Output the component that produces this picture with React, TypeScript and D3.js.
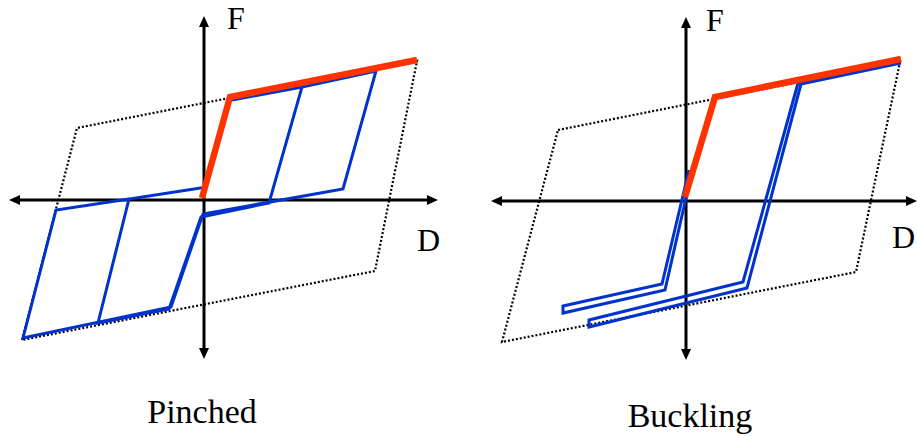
import React from "react";
import * as d3 from "d3";

type P = [number, number];

// ---- Pinched panel (D, F in plot units, origin at axis crossing) ----
const pinchedEnvelope: P[] = [[-182, -140], [-127, 72], [213, 139], [171, -71]];
const pinchedBackbone: P[] = [[-2, 2], [26, 103], [213, 140]];
const pinchedLoopA: P[] = [[28, 100], [98, 113], [65, -3], [-3, -17], [-35, -109], [-106, -123], [-75, 1], [3, 13]];
const pinchedLoopB: P[] = [[98, 113], [172, 129], [139, 11], [-1, -14], [-33, -107], [-181, -138], [-148, -10], [-75, 1]];
const pinchedAxisD: P = [-195, 234];
const pinchedAxisF: P = [-159, 184];

// ---- Buckling panel ----
const bucklingEnvelope: P[] = [[-128, 71], [214, 139], [170, -71], [-184, -141]];
const bucklingBackbone: P[] = [[-1, 4], [29, 104], [215, 142]];
const bucklingLoopInner: P[] = [[3, 31], [-24, -83], [-123, -105], [-123, -112], [-21, -89], [5, 25]];
const bucklingLoopOuter: P[] = [[215, 140], [112, 118], [57, -81], [-97, -119], [-97, -126], [61, -87], [115, 117], [215, 138]];
const bucklingAxisD: P = [-195, 231];
const bucklingAxisF: P = [-159, 184];

const panelTitles = ["Pinched", "Buckling"];
const axisLabels = ["F", "D"];

const RED = "#ff3300";
const BLUE = "#0033cc";
const FONT = "'Liberation Serif', 'Times New Roman', serif";

interface PanelProps {
  ox: number;
  oy: number;
  envelope: P[];
  backbone: P[];
  loops: P[][];
  axisD: P;
  axisF: P;
  title: string;
  titleX: number;
  titleY: number;
  fPos: P;
  dPos: P;
}

function Panel(props: PanelProps) {
  const { ox, oy, envelope, backbone, loops, axisD, axisF } = props;
  const x = d3.scaleLinear().domain([-200, 240]).range([ox - 200, ox + 240]);
  const y = d3.scaleLinear().domain([-170, 190]).range([oy + 170, oy - 190]);
  const line = d3.line<P>().x((d) => x(d[0])).y((d) => y(d[1]));
  const closed = d3.line<P>().x((d) => x(d[0])).y((d) => y(d[1])).curve(d3.curveLinearClosed);

  const aL = 11;
  const aW = 5;
  const xl = x(axisD[0]);
  const xr = x(axisD[1]);
  const yb = y(axisF[0]);
  const yt = y(axisF[1]);
  const x0 = x(0);
  const y0 = y(0);

  return (
    <g>
      <path d={closed(envelope) || ""} fill="none" stroke="#000" strokeWidth={2.2} strokeDasharray="2 2" />
      {/* axes */}
      <line x1={xl + aL - 1} y1={y0} x2={xr - aL + 1} y2={y0} stroke="#000" strokeWidth={3} />
      <line x1={x0} y1={yb - aL + 1} x2={x0} y2={yt + aL - 1} stroke="#000" strokeWidth={3} />
      <polygon points={`${xl},${y0} ${xl + aL},${y0 - aW} ${xl + aL},${y0 + aW}`} fill="#000" />
      <polygon points={`${xr},${y0} ${xr - aL},${y0 - aW} ${xr - aL},${y0 + aW}`} fill="#000" />
      <polygon points={`${x0},${yt} ${x0 - aW},${yt + aL} ${x0 + aW},${yt + aL}`} fill="#000" />
      <polygon points={`${x0},${yb} ${x0 - aW},${yb - aL} ${x0 + aW},${yb - aL}`} fill="#000" />
      {loops.map((l, i) => (
        <path key={i} d={line(l) || ""} fill="none" stroke={BLUE} strokeWidth={3} strokeLinejoin="miter" />
      ))}
      <path d={line(backbone) || ""} fill="none" stroke={RED} strokeWidth={6.5} strokeLinejoin="miter" />
      <text x={props.fPos[0]} y={props.fPos[1]} fontFamily={FONT} fontSize={32}>{axisLabels[0]}</text>
      <text x={props.dPos[0]} y={props.dPos[1]} fontFamily={FONT} fontSize={32}>{axisLabels[1]}</text>
      <text x={props.titleX} y={props.titleY} fontFamily={FONT} fontSize={34} textAnchor="middle">{props.title}</text>
    </g>
  );
}

export default function App() {
  return (
    <svg width={917} height={436} style={{ position: "absolute", left: 0, top: 0, background: "#fff" }}>
      <rect width={917} height={436} fill="#fff" />
      <Panel
        ox={204}
        oy={200}
        envelope={pinchedEnvelope}
        backbone={pinchedBackbone}
        loops={[pinchedLoopA, pinchedLoopB]}
        axisD={pinchedAxisD}
        axisF={pinchedAxisF}
        title={panelTitles[0]}
        titleX={202}
        titleY={423}
        fPos={[227, 29]}
        dPos={[417, 251]}
      />
      <Panel
        ox={686}
        oy={201}
        envelope={bucklingEnvelope}
        backbone={bucklingBackbone}
        loops={[bucklingLoopInner, bucklingLoopOuter]}
        axisD={bucklingAxisD}
        axisF={bucklingAxisF}
        title={panelTitles[1]}
        titleX={690}
        titleY={427}
        fPos={[706, 31]}
        dPos={[892, 248]}
      />
    </svg>
  );
}
